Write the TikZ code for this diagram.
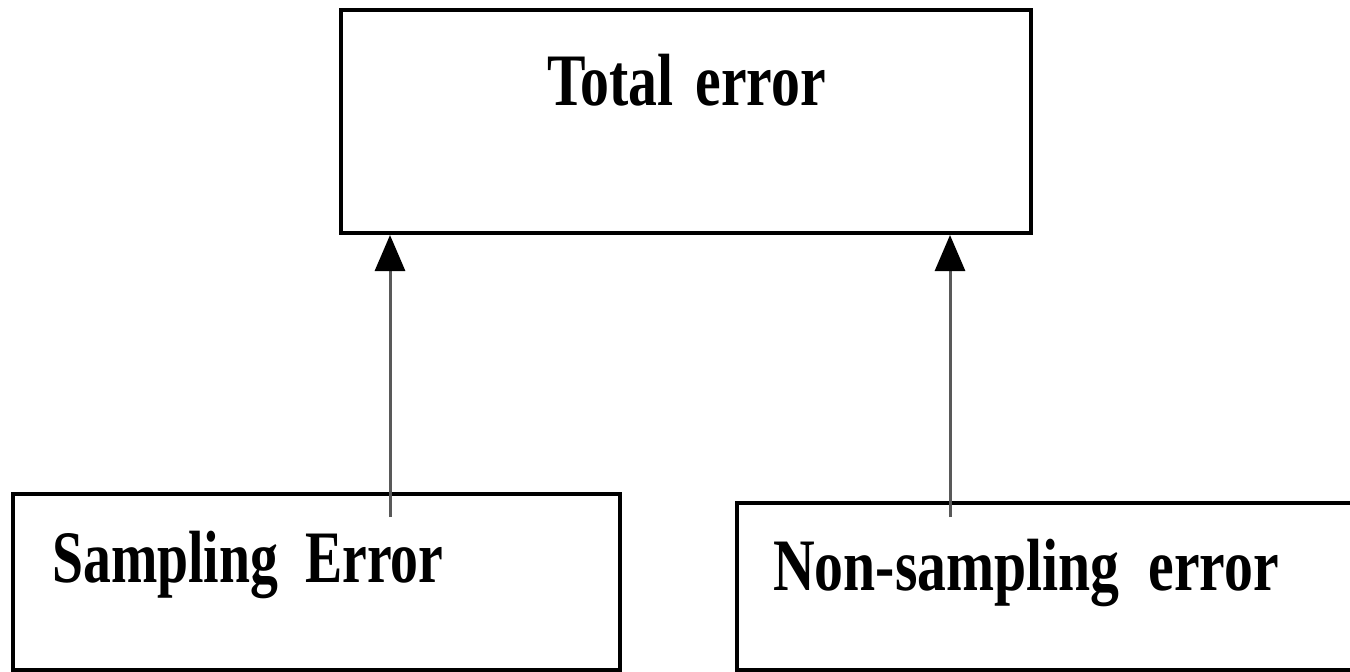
\documentclass[tikz,border=0pt]{standalone}
\usepackage{fontspec}
\newfontfamily\condfont{Liberation Serif}[FakeStretch=0.78]
\usetikzlibrary{arrows.meta}
\begin{document}
\begin{tikzpicture}[x=1pt,y=-1pt,
  box/.style={draw=black, line width=4pt, minimum width=#1, inner sep=0pt},
  lbl/.style={anchor=base west, inner sep=0pt, font=\condfont\bfseries\fontsize{74}{80}\selectfont},
  conn/.style={draw=black!65, line width=3pt, -{Triangle[width=30pt,length=36pt,color=black]}}]
\useasboundingbox (0,0) rectangle (1350,672);
\node[box=690pt, minimum height=223pt] (total) at (686,121.5) {};
\node[box=607pt, minimum height=176pt] (samp) at (316.5,582) {};
\node[box=628pt, minimum height=167pt] (nonsamp) at (1051,586.5) {};
\node[lbl] (ttot) at (547,105) {Total\hspace{0.3em}error};
\node[lbl] (tsamp) at (52,582) {\scalebox{0.965}[1]{Sampling\hspace{0.38em}Error}};
\node[lbl] (tnon) at (773,590) {Non-sampling\ \ error};
\coordinate (s1) at (390,517);
\coordinate (s2) at (950,517);
\draw[conn] (s1) -- (s1 |- total.south);
\draw[conn] (s2) -- (s2 |- total.south);
\end{tikzpicture}
\end{document}
